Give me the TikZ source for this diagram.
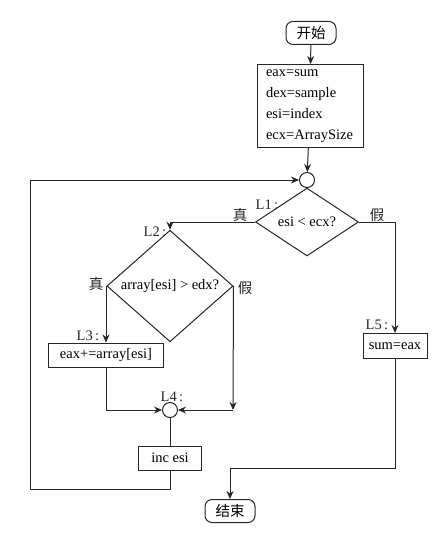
\documentclass[tikz,border=0pt]{standalone}
\usepackage{fontspec}
\setmainfont{Liberation Serif}
\newfontfamily\cjk{Noto Sans CJK SC}
\usetikzlibrary{arrows.meta,shapes.geometric}
\definecolor{ink}{HTML}{262626}
\tikzset{
  term/.style={draw=ink,rounded corners=7pt,minimum width=50pt,
               minimum height=23pt,inner sep=0pt,line width=1pt},
  box/.style={draw=ink,line width=1pt,inner sep=0pt},
  cond/.style={diamond,draw=ink,line width=1pt,inner sep=0pt},
  joint/.style={circle,draw=ink,line width=1pt,minimum size=15pt,inner sep=0pt},
  tag/.style={inner sep=0pt,text=ink},
  flow/.style={-{Stealth[length=8pt,width=7pt]},line width=1pt,ink},
  wire/.style={line width=1pt,ink},
}
\begin{document}
\begin{tikzpicture}[x=1pt,y=-1pt,font=\fontsize{14.5}{17}\selectfont]
  \useasboundingbox (0,0) rectangle (436,543);
  % terminals and boxes
  \node[term] (start) at (311,33) {\cjk 开始};
  \node[box,minimum width=106pt,minimum height=83pt,text width=88pt,
        align=left,font=\fontsize{14.5}{21}\selectfont]
    (init) at (310,106) {eax=sum\\dex=sample\\esi=index\\ecx=ArraySize};
  \node[joint] (c1) at (307,180) {};
  \node[cond,minimum width=103pt,minimum height=57pt] (L1) at (307,222) {esi < ecx?};
  \node[cond,minimum width=126pt,minimum height=71pt] (L2) at (170,286) {array[esi] > edx?};
  \node[box,minimum width=115pt,minimum height=24pt] (L3) at (106,355) {eax+=array[esi]};
  \node[box,minimum width=64pt,minimum height=25pt] (L5) at (395,346) {sum=eax};
  \node[joint] (c4) at (170,410) {};
  \node[box,minimum width=63pt,minimum height=24pt] (inc) at (170,458) {inc esi};
  \node[term] (stop) at (230,511) {\cjk 结束};
  % labels
  \node[tag] (t1) at (267,205) {L1\,:};
  \node[tag] (t2) at (155,232) {L2\,:};
  \node[tag] (t3) at (88,336) {L3\,:};
  \node[tag] (t4) at (172,397) {L4\,:};
  \node[tag] (t5) at (377,325) {L5\,:};
  \node[tag] (y1) at (240,215) {\cjk 真};
  \node[tag] (n1) at (377,215) {\cjk 假};
  \node[tag] (y2) at (96,284) {\cjk 真};
  \node[tag] (n2) at (245,288) {\cjk 假};
  % bends
  \coordinate (k1) at (30,489);
  \coordinate (k2) at (233,410);
  \coordinate (k3) at (230,468);
  % connectors
  \draw[flow] (start) -- (init);
  \draw[flow] (init) -- (c1);
  \draw[wire] (c1) -- (L1);
  \draw[flow] (L1.west) -| (L2.north);
  \draw[flow] (L1.east) -| (L5.north);
  \draw[flow] (L2.west) -| (L3.north);
  \draw[flow] (L2.east) -- (k2);
  \draw[flow] (k2) -- (c4);
  \draw[flow] (L3.south) |- (c4);
  \draw[wire] (c4) -- (inc);
  \draw[flow] (inc.south) |- (k1) |- (c1);
  \draw[flow] (L5.south) |- (k3) -- (stop);
\end{tikzpicture}
\end{document}
